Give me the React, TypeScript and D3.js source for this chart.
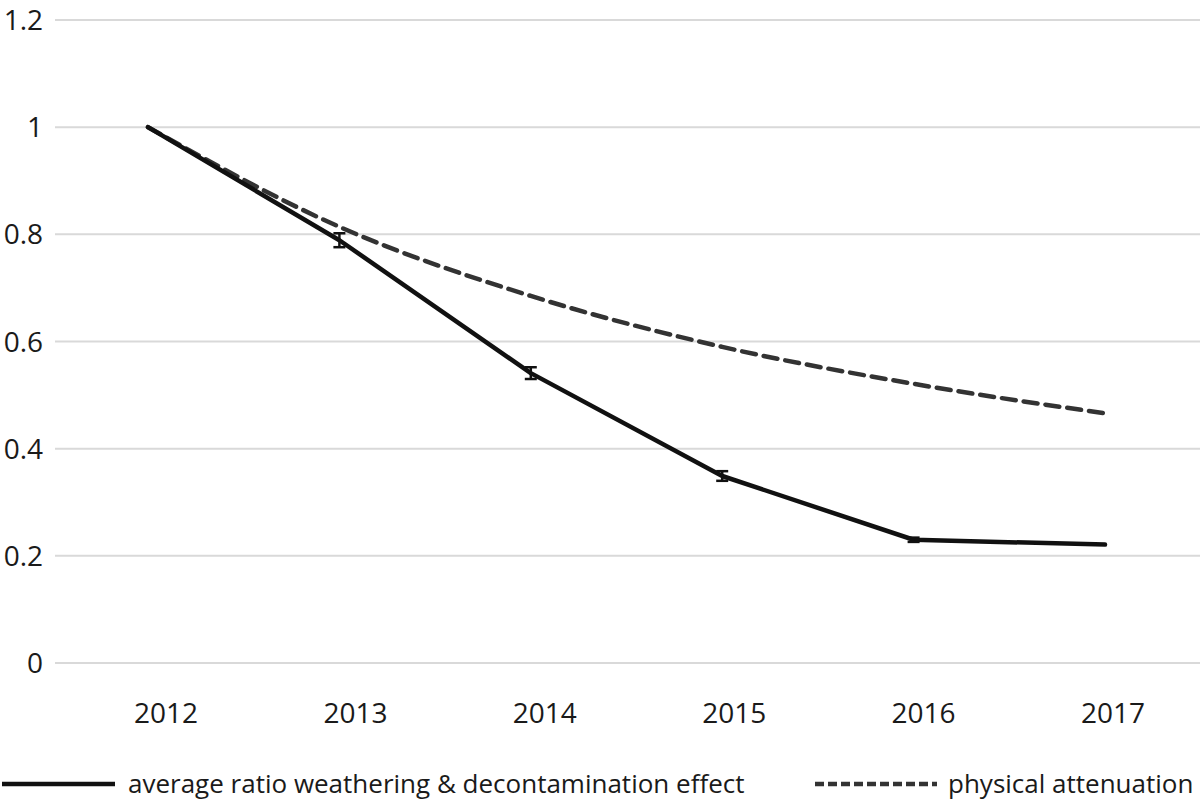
import { useEffect, useRef } from "react";
import * as d3 from "d3";

// values
const years = ["2012", "2013", "2014", "2015", "2016", "2017"];
const weathering = [1, 0.789, 0.541, 0.349, 0.23, 0.221];
const weatheringErr = [0, 0.013, 0.011, 0.009, 0.004, 0];
const attenuation = [1, 0.814, 0.685, 0.59, 0.521, 0.466];
const yTicks = [0, 0.2, 0.4, 0.6, 0.8, 1, 1.2];
const legendLabels = [
  "average ratio weathering & decontamination effect",
  "physical attenuation",
];

const App = () => {
  const svgRef = useRef<SVGSVGElement | null>(null);

  useEffect(() => {
    drawChart();
  }, []);

  const drawChart = () => {
    const w = 1200;
    const h = 804;
    const font = "'Open Sans', sans-serif";

    const svg = d3
      .select(svgRef.current)
      .attr("width", w)
      .attr("height", h)
      .style("background", "#fff");
    svg.selectAll("*").remove();

    const yScale = d3.scaleLinear().domain([0, 1.2]).range([663, 20]);
    // category labels sit slightly right of the data points in the original
    const xLabel = d3.scalePoint().domain(years).range([166, 1113]);
    const xData = d3.scalePoint().domain(years).range([148, 1105]);

    // gridlines
    svg
      .append("g")
      .selectAll("line")
      .data(yTicks)
      .join("line")
      .attr("x1", 55)
      .attr("x2", w)
      .attr("y1", (d) => yScale(d))
      .attr("y2", (d) => yScale(d))
      .attr("stroke", "#d9d9d9")
      .attr("stroke-width", 2);

    // y labels
    svg
      .append("g")
      .selectAll("text")
      .data(yTicks)
      .join("text")
      .attr("x", 43)
      .attr("y", (d) => yScale(d))
      .attr("dy", "0.36em")
      .attr("text-anchor", "end")
      .attr("font-family", font)
      .attr("font-size", 28)
      .attr("fill", "#1a1a1a")
      .text((d) => String(d));

    // x labels
    svg
      .append("g")
      .selectAll("text")
      .data(years)
      .join("text")
      .attr("x", (d) => xLabel(d)!)
      .attr("y", 723)
      .attr("text-anchor", "middle")
      .attr("font-family", font)
      .attr("font-size", 28)
      .attr("fill", "#1a1a1a")
      .text((d) => d);

    // dashed smoothed series
    const dashedLine = d3
      .line<number>()
      .x((d, i) => xData(years[i])!)
      .y((d) => yScale(d))
      .curve(d3.curveMonotoneX);
    svg
      .append("path")
      .attr("d", dashedLine(attenuation))
      .attr("fill", "none")
      .attr("stroke", "#333")
      .attr("stroke-width", 4.5)
      .attr("stroke-dasharray", "14,8")
      .attr("stroke-linecap", "round");

    // solid series
    const solidLine = d3
      .line<number>()
      .x((d, i) => xData(years[i])!)
      .y((d) => yScale(d));
    svg
      .append("path")
      .attr("d", solidLine(weathering))
      .attr("fill", "none")
      .attr("stroke", "#111")
      .attr("stroke-width", 4.5)
      .attr("stroke-linejoin", "round")
      .attr("stroke-linecap", "round");

    // error bars
    const errs = svg
      .append("g")
      .selectAll("g")
      .data(weathering.map((v, i) => ({ v, e: weatheringErr[i], yr: years[i] })).filter((d) => d.e > 0))
      .join("g")
      .attr("stroke", "#111")
      .attr("stroke-width", 2.5);
    errs
      .append("line")
      .attr("x1", (d) => xData(d.yr)!)
      .attr("x2", (d) => xData(d.yr)!)
      .attr("y1", (d) => yScale(d.v - d.e))
      .attr("y2", (d) => yScale(d.v + d.e));
    [1, -1].forEach((s) => {
      errs
        .append("line")
        .attr("x1", (d) => xData(d.yr)! - 6)
        .attr("x2", (d) => xData(d.yr)! + 6)
        .attr("y1", (d) => yScale(d.v + s * d.e))
        .attr("y2", (d) => yScale(d.v + s * d.e));
    });

    // legend
    const leg = svg.append("g");
    leg
      .append("line")
      .attr("x1", 2)
      .attr("x2", 115)
      .attr("y1", 784)
      .attr("y2", 784)
      .attr("stroke", "#111")
      .attr("stroke-width", 4.5);
    leg
      .append("text")
      .attr("x", 128)
      .attr("y", 793)
      .attr("font-family", font)
      .attr("font-size", 26)
      .attr("fill", "#1a1a1a")
      .text(legendLabels[0]);
    leg
      .append("line")
      .attr("x1", 815)
      .attr("x2", 937)
      .attr("y1", 784)
      .attr("y2", 784)
      .attr("stroke", "#333")
      .attr("stroke-width", 4.5)
      .attr("stroke-dasharray", "9,4");
    leg
      .append("text")
      .attr("x", 948)
      .attr("y", 793)
      .attr("font-family", font)
      .attr("font-size", 26)
      .attr("fill", "#1a1a1a")
      .text(legendLabels[1]);
  };

  return (
    <div style={{ position: "absolute", left: 0, top: 0 }}>
      <svg ref={svgRef} style={{ display: "block" }}></svg>
    </div>
  );
};

export default App;
